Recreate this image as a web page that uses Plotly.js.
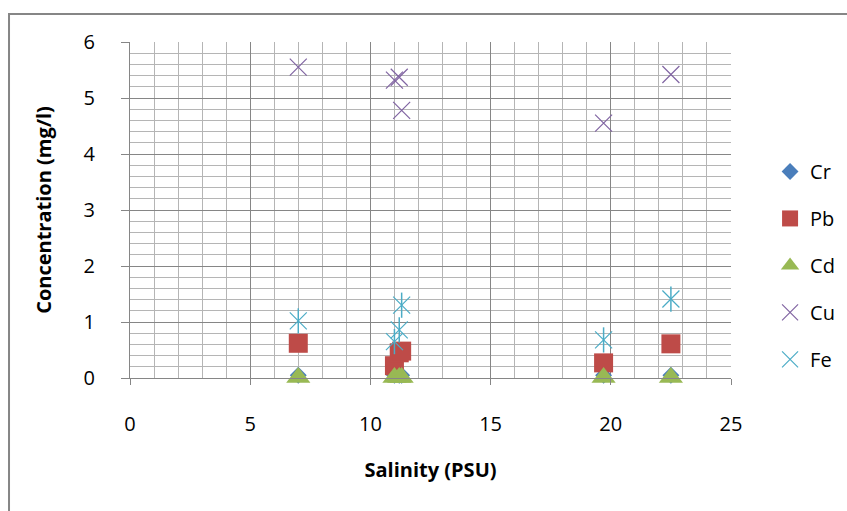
<!DOCTYPE html>
<html>
<head>
<meta charset="utf-8">
<script src="https://cdn.plot.ly/plotly-3.0.1.min.js"></script>
<style>html,body{margin:0;padding:0;background:#fff;}#chart{width:847px;height:511px;}</style>
</head>
<body>
<div id="chart"></div>
<script>
const salinity = [7.0, 11.0, 11.2, 11.3, 19.7, 22.5];
const cr = [0.05, 0.05, 0.05, 0.05, 0.05, 0.05];
const pb = [0.62, 0.22, 0.45, 0.48, 0.27, 0.61];
const cd = [0.01, 0.01, 0.01, 0.01, 0.01, 0.01];
const cu = [5.55, 5.32, 5.37, 4.78, 4.55, 5.42];
const fe = [1.02, 0.65, 0.86, 1.30, 0.68, 1.41];
const seriesNames = ['Cr', 'Pb', 'Cd', 'Cu', 'Fe'];

const base = {type: 'scatter', mode: 'markers', x: salinity, cliponaxis: false};
const traces = [
  Object.assign({}, base, {name: seriesNames[0], y: cr, legendgroup: 'a',
    marker: {symbol: 'diamond', size: 13, color: '#4a7ebb'}}),
  Object.assign({}, base, {name: seriesNames[1], y: pb, legendgroup: 'b',
    marker: {symbol: 'square', size: 19, color: '#be4b48'}}),
  Object.assign({}, base, {name: seriesNames[2], y: cd, legendgroup: 'c',
    marker: {symbol: 'triangle-up', size: 21, color: '#98b954'}}),
  Object.assign({}, base, {name: seriesNames[3], y: cu, legendgroup: 'd',
    marker: {symbol: 'x-thin-open', size: 17, color: '#8064a2', line: {width: 1.2, color: '#8064a2'}}}),
  Object.assign({}, base, {name: seriesNames[4], y: fe, legendgroup: 'e',
    marker: {symbol: 'x-thin-open', size: 17, color: '#4bacc6', line: {width: 1.2, color: '#4bacc6'}}}),
  Object.assign({}, base, {name: seriesNames[4], y: fe, legendgroup: 'e', showlegend: false,
    marker: {symbol: 'line-ns-open', size: 18, color: '#4bacc6', line: {width: 1.5, color: '#4bacc6'}}})
];

const layout = {
  width: 847, height: 511,
  margin: {l: 130, r: 116, t: 42, b: 133, autoexpand: false},
  paper_bgcolor: '#ffffff', plot_bgcolor: '#ffffff',
  font: {family: 'Open Sans, sans-serif', size: 19, color: '#000'},
  showlegend: true,
  legend: {x: 1.065, xanchor: 'left', y: 0.335, yanchor: 'middle',
    traceorder: 'grouped', tracegroupgap: 18, font: {size: 20, color: '#000'},
    itemwidth: 30, bgcolor: 'rgba(0,0,0,0)'},
  xaxis: {range: [0, 25], dtick: 5, tick0: 0, showgrid: true, gridcolor: '#868686', gridwidth: 1,
    minor: {dtick: 1, showgrid: true, gridcolor: '#b5b5b5', gridwidth: 1},
    ticks: 'outside', ticklen: 6, tickcolor: '#868686', showline: true, linecolor: '#868686',
    zeroline: false, ticklabelstandoff: 22, tickfont: {size: 20},
    title: {text: '<b>Salinity (PSU)</b>', font: {size: 20}, standoff: 26}},
  yaxis: {range: [0, 6], dtick: 1, tick0: 0, showgrid: true, gridcolor: '#868686', gridwidth: 1,
    minor: {dtick: 0.2, showgrid: true, gridcolor: '#b5b5b5', gridwidth: 1},
    ticks: 'outside', ticklen: 8, tickcolor: '#868686', showline: true, linecolor: '#868686',
    zeroline: false, ticklabelstandoff: 22, tickfont: {size: 20},
    title: {text: '<b>Concentration (mg/l)</b>', font: {size: 20}, standoff: 26}},
  shapes: [{type: 'rect', xref: 'paper', yref: 'paper',
    x0: -0.2013, x1: 1.2, y0: -0.42, y1: 1.0833,
    line: {color: '#868686', width: 2}, fillcolor: 'rgba(0,0,0,0)', layer: 'below'}]
};

Plotly.newPlot('chart', traces, layout, {displayModeBar: false, staticPlot: true});
</script>
</body>
</html>
